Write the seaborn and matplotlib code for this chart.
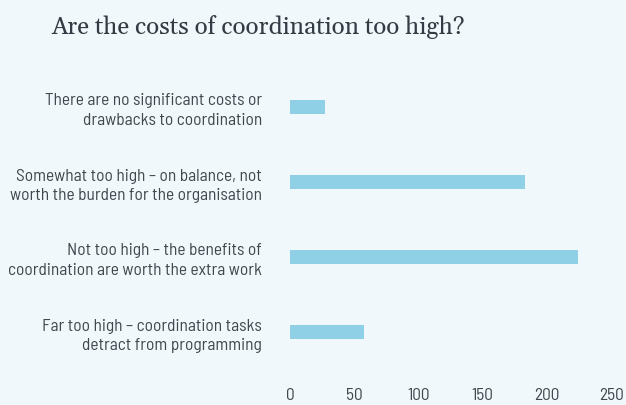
import matplotlib
matplotlib.use("Agg")
import matplotlib.pyplot as plt
import seaborn as sns
import pandas as pd

categories = [
    "There are no significant costs or\ndrawbacks to coordination",
    "Somewhat too high – on balance, not\nworth the burden for the organisation",
    "Not too high – the benefits of\ncoordination are worth the extra work",
    "Far too high – coordination tasks\ndetract from programming",
]
counts = [27, 183, 224, 58]
x_ticks = [0, 50, 100, 150, 200, 250]
title = "Are the costs of coordination too high?"

bg = "#f1f8fb"
bar_color = "#8fd0e6"
text_color = "#40474e"

sns.set_theme(style="white")
plt.rcParams["font.family"] = ["Barlow Semi Condensed", "DejaVu Sans"]

df = pd.DataFrame({"answer": categories, "count": counts})

fig = plt.figure(figsize=(6.26, 4.05), dpi=100, facecolor=bg)
ax = fig.add_axes([290 / 626, 1 - 369.5 / 405, 321 / 626, 300 / 405])
ax.set_facecolor(bg)

sns.barplot(data=df, x="count", y="answer", order=categories, color=bar_color,
            width=0.175, saturation=1, linewidth=0, ax=ax)

ax.set_xlim(0, 250)
ax.set_ylim(3.5, -0.5)
ax.set_xticks(x_ticks)
ax.set_xticklabels([str(t) for t in x_ticks])
ax.set_xlabel("")
ax.set_ylabel("")
for s in ax.spines.values():
    s.set_visible(False)
ax.tick_params(axis="x", length=0, pad=13, labelsize=12.5, labelcolor=text_color)
ax.tick_params(axis="y", length=0, pad=20, labelsize=12.5, labelcolor=text_color)
for lbl in ax.get_yticklabels():
    lbl.set_linespacing(1.38)
    lbl.set_horizontalalignment("right")
    lbl.set_multialignment("right")

fig.text(258.5 / 626, 1 - 27 / 405, title, ha="center", va="center",
         fontsize=17.5, color="#333c44", family=["Gelasio", "DejaVu Serif"])

fig.savefig("out.png", dpi=100, facecolor=bg)
